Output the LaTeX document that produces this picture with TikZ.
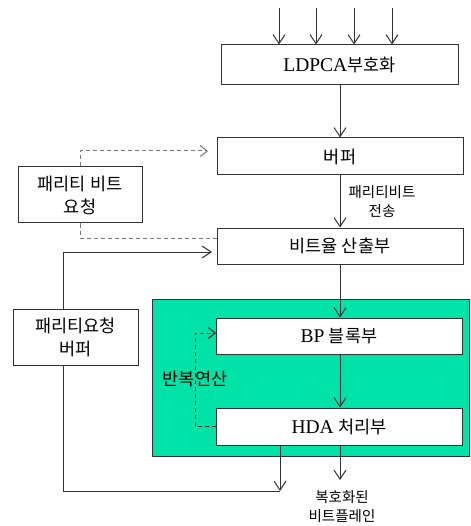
\documentclass[tikz,border=0pt]{standalone}
\usepackage{fontspec}
\setmainfont{Liberation Serif}
\newfontfamily\kr{Noto Sans CJK KR}
\usetikzlibrary{arrows.meta}
\definecolor{lineg}{HTML}{333333}
\definecolor{dashg}{HTML}{7A7A7A}
\definecolor{panel}{HTML}{00E3A8}
\newcommand\latn[1]{{\fontsize{19.5}{23}\selectfont #1}}
\tikzset{
  box/.style={draw=lineg, line width=1pt, fill=white, rectangle, inner sep=0pt,
    font=\fontsize{17.5}{23}\selectfont, align=center, text=black},
  arr/.style={draw=lineg, line width=1pt, -{Straight Barb[length=9pt,width=12pt]}},
  ln/.style={draw=lineg, line width=1pt},
  dsh/.style={draw=dashg, line width=1pt, dash pattern=on 4pt off 3pt},
  dshk/.style={draw=black!85, line width=1pt, dash pattern=on 4pt off 3pt},
  lbl/.style={font=\kr\fontsize{14.5}{19}\selectfont, align=center, text=black, inner sep=0pt}
}
\begin{document}
\begin{tikzpicture}[x=1pt,y=-1pt]
\useasboundingbox (0,0) rectangle (470,526);
\fill[white] (0,0) rectangle (470,526);
% green panel
\draw[lineg, line width=1pt, fill=panel] (152,299) rectangle (469.5,456);
% boxes
\node[box, minimum width=237pt, minimum height=40pt] (ldpc) at (339.5,65) {\latn{LDPCA}{\kr 부호화}};
\node[box, minimum width=246pt, minimum height=37pt] (buf) at (340,156.5) {\kr 버퍼};
\node[box, minimum width=124pt, minimum height=56pt] (req) at (80,195) {\kr 패리티 비트\\\kr 요청};
\node[box, minimum width=246pt, minimum height=36pt] (rate) at (340,246) {\kr 비트율 산출부};
\node[box, minimum width=125pt, minimum height=56pt] (rbuf) at (75.5,337) {\kr 패리티요청\\\kr 버퍼};
\node[box, minimum width=246pt, minimum height=36pt] (bp) at (339,336) {\latn{BP} {\kr 블록부}};
\node[box, minimum width=246pt, minimum height=37pt] (hda) at (339,426.5) {\latn{HDA} {\kr 처리부}};
% labels
\node[lbl] (lsend) at (382,202) {패리티비트\\전송};
\node[lbl] (lout) at (342,507) {복호화된\\비트플레인};
% input arrows
\coordinate (i1) at (279,8);
\coordinate (i2) at (316,8);
\coordinate (i3) at (354,8);
\coordinate (i4) at (392,8);
\foreach \c in {i1,i2,i3,i4} \draw[arr] (\c) -- (\c |- ldpc.north);
% main vertical arrows
\coordinate (mx) at (340,0);
\draw[arr] (ldpc.south -| mx) -- (buf.north -| mx);
\draw[arr] (buf.south -| mx) -- (rate.north -| mx);
\draw[arr] (rate.south -| mx) -- (bp.north -| mx);
\draw[arr] (bp.south -| mx) -- (hda.north -| mx);
\coordinate (outend) at (340,480);
\draw[arr] (hda.south -| outend) -- (outend);
% dashed request lines
\coordinate (dtop) at (208,151);
\coordinate (dbot) at (217,238);
\draw[dsh, -{Straight Barb[length=7pt,width=11pt]}] (req.north) |- (dtop);
\draw[dsh] (req.south) |- (dbot);
% left feedback solid lines
\coordinate (lt) at (63,309);
\coordinate (la) at (212,252);
\draw[arr] (lt) |- (la);
\coordinate (lb) at (63,365);
\coordinate (lj) at (280,491);
\draw[ln] (lb) |- (lj);
\draw[arr] (hda.south -| lj) -- (lj);
% iteration loop
\coordinate (hl) at (216,426);
\coordinate (bl) at (216,333);
\draw[dshk, -{Straight Barb[length=7pt,width=11pt]}] (hl) -- (195,426) -- (195,333) -- (bl);
\node[font=\kr\fontsize{17.5}{20}\selectfont, text=black, inner sep=0pt] (iter) at (195,379) {반복연산};
\end{tikzpicture}
\end{document}
